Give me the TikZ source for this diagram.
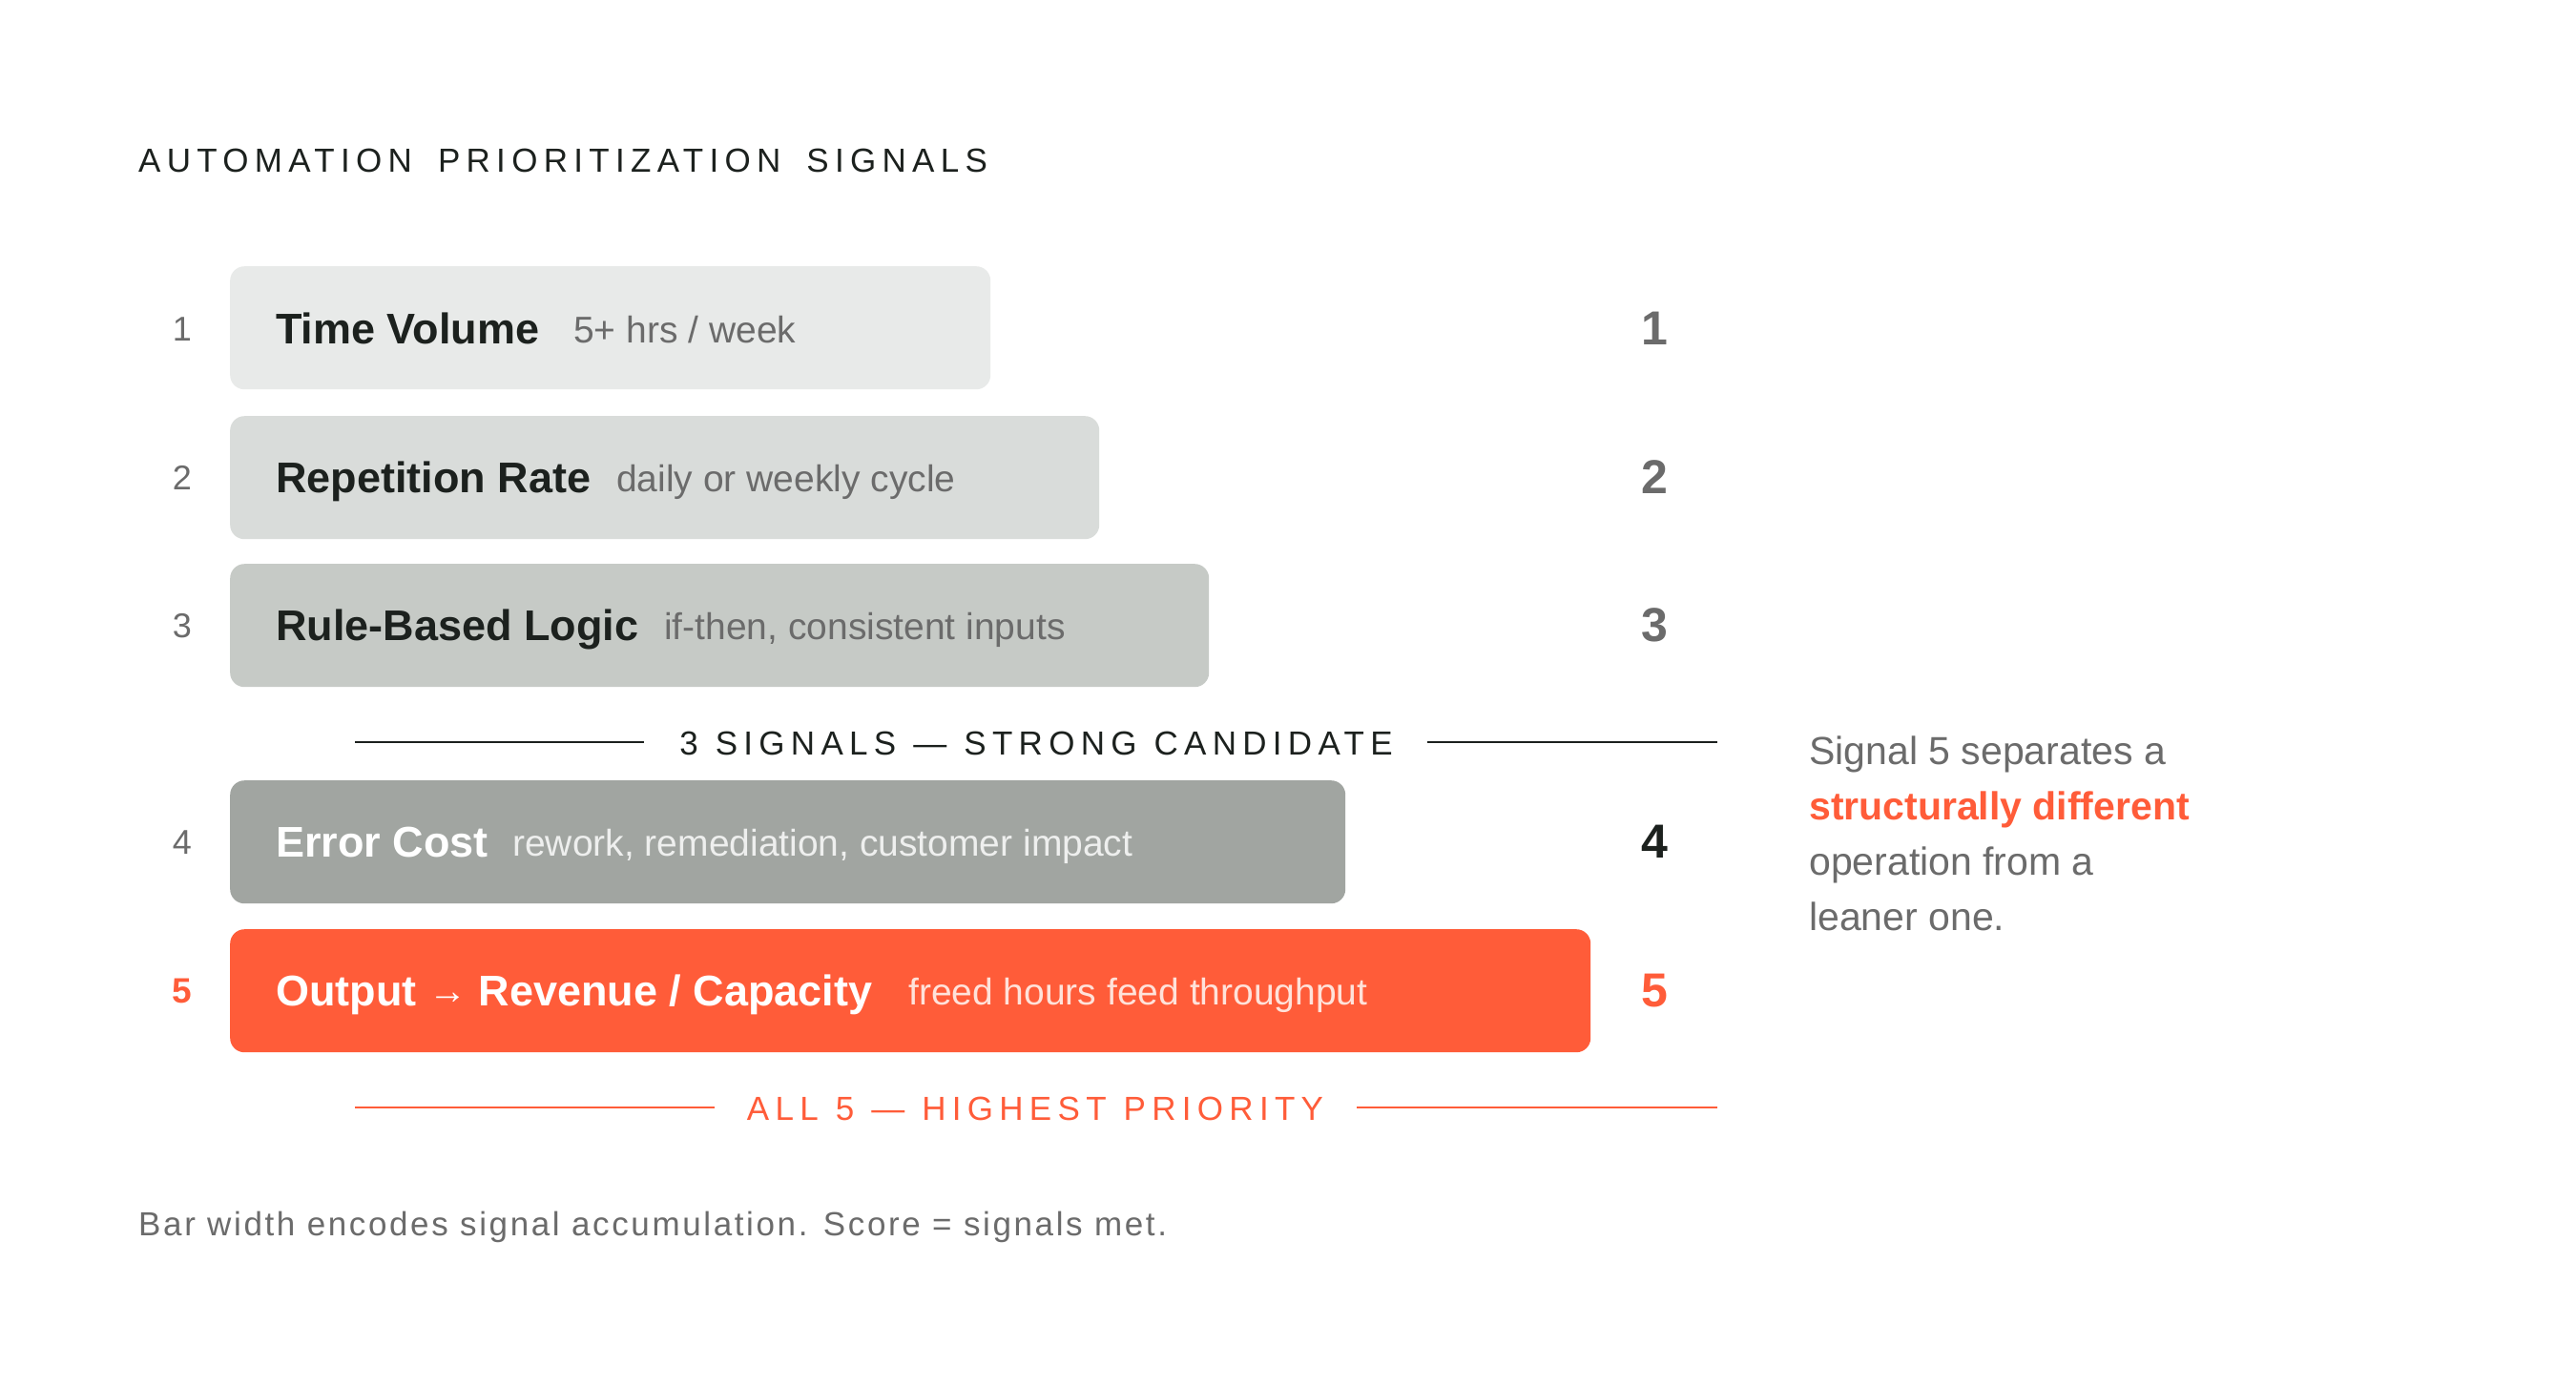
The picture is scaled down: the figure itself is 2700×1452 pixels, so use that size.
\documentclass[tikz,border=0pt]{standalone}
\usepackage{fontspec}
\setmainfont{Liberation Sans}
\definecolor{ink}{HTML}{1C211E}
\definecolor{mute}{HTML}{6B6B6B}
\definecolor{accent}{HTML}{FF5C39}
\definecolor{barA}{HTML}{E8EAE9}
\definecolor{barB}{HTML}{D9DCDA}
\definecolor{barC}{HTML}{C6CAC6}
\definecolor{barD}{HTML}{A1A5A1}
\definecolor{subD}{HTML}{EEEFEE}
\definecolor{subE}{HTML}{FFE2DA}
\newcommand{\fsz}[1]{\fontsize{#1}{#1}\selectfont}
\newcommand{\wsp}[1]{\ \hspace{#1}}
\begin{document}
\begin{tikzpicture}[x=1pt,y=-1pt,
  bar/.style={anchor=north west, rounded corners=15pt, minimum height=129pt, inner sep=0pt, draw=none},
  lbl/.style={anchor=base west, inner sep=0pt, font=\fsz{45}\bfseries, text=ink},
  sub/.style={anchor=base west, inner sep=0pt, font=\fsz{39}, text=mute},
  lnum/.style={anchor=base, inner sep=0pt, font=\fsz{36}, text=mute},
  rnum/.style={anchor=base, inner sep=0pt, font=\fsz{50}\bfseries, text=mute},
  caps/.style={inner sep=0pt, font=\fsz{35}\addfontfeature{LetterSpace=18}},
  side/.style={anchor=base west, inner sep=0pt, font=\fsz{41}, text=mute},
  rule/.style={line width=2.5pt},
]
\fill[white] (0,0) rectangle (2700,1452);
\useasboundingbox (0,0) rectangle (2700,1452);

% title
\node[caps, anchor=base west, text=ink] (title) at (145,180) {AUTOMATION\wsp{11pt}PRIORITIZATION\wsp{11pt}SIGNALS};

% bars
\node[bar, fill=barA, minimum width=797pt] (b1) at (241,279) {};
\node[bar, fill=barB, minimum width=911pt] (b2) at (241,436) {};
\node[bar, fill=barC, minimum width=1026pt] (b3) at (241,591) {};
\node[bar, fill=barD, minimum width=1169pt] (b4) at (241,818) {};
\node[bar, fill=accent, minimum width=1426pt] (b5) at (241,974) {};

% bar texts
\node[lbl] (t1) at (289,360) {Time Volume};
\node[sub] (s1) at (601,359) {5+ hrs / week};
\node[lbl] (t2) at (289,516) {Repetition Rate};
\node[sub] (s2) at (646,515) {daily or weekly cycle};
\node[lbl] (t3) at (289,671) {Rule-Based Logic};
\node[sub] (s3) at (696,670) {if-then, consistent inputs};
\node[lbl, text=white] (t4) at (289,898) {Error Cost};
\node[sub, text=subD] (s4) at (537,897) {rework, remediation, customer impact};
\node[lbl, text=white] (t5) at (289,1054) {Output {\mdseries\fsz{40}\raisebox{2pt}{→}} Revenue / Capacity};
\node[sub, text=subE] (s5) at (952,1053) {freed hours feed throughput};

% left numbers
\node[lnum] (l1) at (191,357) {1};
\node[lnum] (l2) at (191,513) {2};
\node[lnum] (l3) at (191,668) {3};
\node[lnum] (l4) at (191,895) {4};
\node[lnum, text=accent, font=\fsz{37}\bfseries] (l5) at (191,1051) {5};

% right numbers
\node[rnum] (r1) at (1734,361) {1};
\node[rnum] (r2) at (1734,517) {2};
\node[rnum] (r3) at (1734,672) {3};
\node[rnum, text=ink] (r4) at (1734,899) {4};
\node[rnum, text=accent] (r5) at (1734,1055) {5};

% divider 1
\node[caps, anchor=base, text=ink] (d1) at (1086,791) {3\wsp{2pt}SIGNALS\wsp{2pt}—\wsp{2pt}STRONG\wsp{2pt}CANDIDATE};
\coordinate (d1a) at (372,778);
\coordinate (d1b) at (675,778);
\coordinate (d1c) at (1496,778);
\coordinate (d1d) at (1800,778);
\draw[rule, ink] (d1a) -- (d1b);
\draw[rule, ink] (d1c) -- (d1d);

% divider 2
\node[caps, anchor=base, text=accent] (d2) at (1085,1174) {ALL\wsp{2pt}5\wsp{2pt}—\wsp{2pt}HIGHEST\wsp{2pt}PRIORITY};
\coordinate (d2a) at (372,1161);
\coordinate (d2b) at (749,1161);
\coordinate (d2c) at (1422,1161);
\coordinate (d2d) at (1800,1161);
\draw[rule, accent, line width=2pt] (d2a) -- (d2b);
\draw[rule, accent, line width=2pt] (d2c) -- (d2d);

% side note
\node[side] (n1) at (1896,801) {Signal 5 separates a};
\node[side, text=accent, font=\fsz{41}\bfseries] (n2) at (1896,859) {structurally different};
\node[side] (n3) at (1896,917) {operation from a};
\node[side] (n4) at (1896,975) {leaner one.};

% footnote
\node[anchor=base west, inner sep=0pt, font=\fsz{35}\addfontfeature{LetterSpace=7.5}, text=mute] (foot) at (145,1295) {Bar width encodes signal accumulation. Score = signals met.};
\end{tikzpicture}
\end{document}
